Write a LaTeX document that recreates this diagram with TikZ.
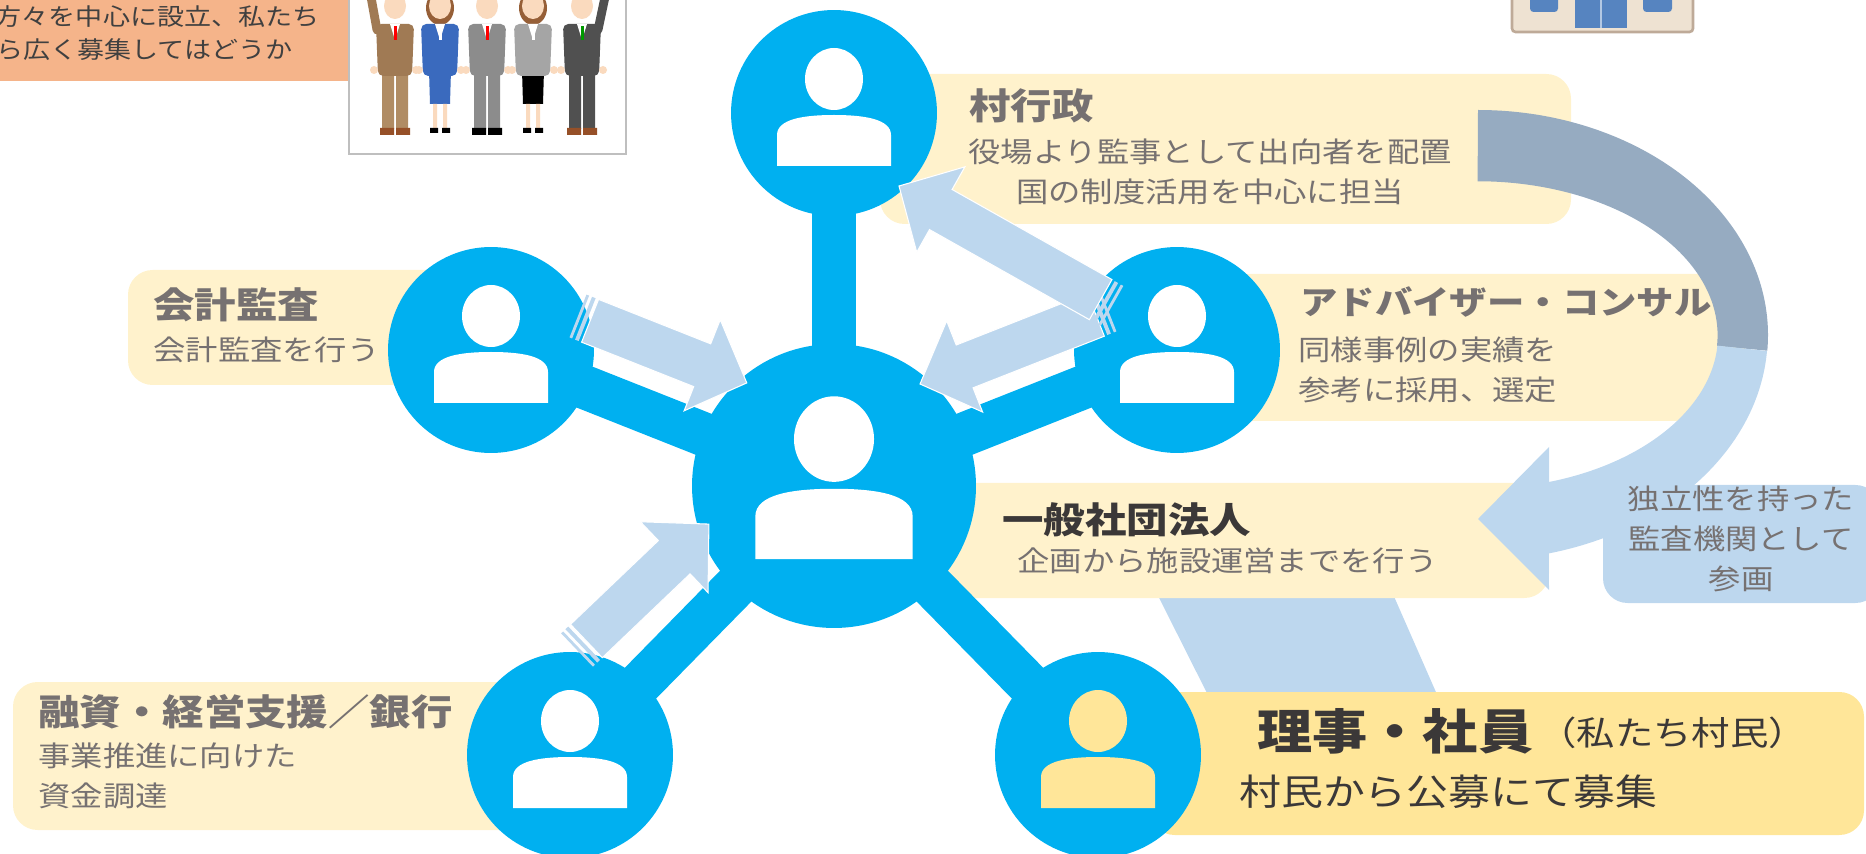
\documentclass[tikz,border=0pt]{standalone}
\usepackage{fontspec}
\setmainfont{Noto Sans CJK JP}[FakeStretch=1.15]
\usetikzlibrary{calc}

\definecolor{hubblue}{RGB}{0,176,240}
\definecolor{notecream}{RGB}{255,242,204}
\definecolor{membergold}{RGB}{255,230,153}
\definecolor{flowblue}{RGB}{189,215,238}
\definecolor{loopgray}{RGB}{150,171,193}
\definecolor{txtgray}{RGB}{118,113,113}
\definecolor{txtdark}{RGB}{59,56,56}
\definecolor{salmon}{RGB}{245,180,138}
\definecolor{skin}{RGB}{250,218,190}
\definecolor{suitbrown}{RGB}{160,122,84}
\definecolor{pantstan}{RGB}{176,140,100}
\definecolor{suitblue}{RGB}{58,106,190}
\definecolor{suitgray}{RGB}{140,140,140}
\definecolor{suitlight}{RGB}{165,165,165}
\definecolor{suitdark}{RGB}{80,80,80}
\definecolor{shoebrown}{RGB}{150,80,40}
\definecolor{hairbrown}{RGB}{150,95,55}
\definecolor{wallbeige}{RGB}{238,226,210}
\definecolor{wallframe}{RGB}{190,170,152}
\definecolor{windowblue}{RGB}{86,132,192}

\pgfdeclarelayer{notes}
\pgfdeclarelayer{stems}
\pgfsetlayers{notes,stems,main}

% block arrow with two stripes at its tail, from #1 to #2
\newcommand\stripedarrow[2]{%
  \path let \p1=($(#2)-(#1)$) in \pgfextra{%
    \pgfmathsetmacro\saangle{atan2(\y1,\x1)}\xdef\saangle{\saangle}%
    \pgfmathsetmacro\salen{veclen(\x1,\y1)}\xdef\salen{\salen}%
    \pgfmathsetmacro\saneck{\salen-27.3}\xdef\saneck{\saneck}};
  \begin{scope}[shift={(#1)}, rotate=\saangle, x=1pt, y=1pt]
    \fill[flowblue] (0,-13.1) rectangle (1.6,13.1) (3.4,-13.1) rectangle (5.6,13.1);
    \fill[flowblue, draw=white, line width=0.6pt] (7.4,-13.1) -- (\saneck,-13.1)
      -- (\saneck,-27.9) -- (\salen,0) -- (\saneck,27.9) -- (\saneck,13.1)
      -- (7.4,13.1) -- cycle;
  \end{scope}}

\begin{document}
\begin{tikzpicture}[x=0.02cm, y=-0.02cm,
    member/.style={circle, fill=hubblue, inner sep=0pt, minimum size=4.12cm},
    hubnode/.style={member, minimum size=5.68cm},
    stem/.style={hubblue, line width=25pt},
    note/.style={fill=notecream, rounded corners=14pt},
    title/.style={inner sep=0pt, anchor=west, text=txtgray,
      font=\fontsize{20.5}{24}\selectfont\bfseries},
    body/.style={inner sep=0pt, anchor=west, align=left, text=txtgray,
      font=\fontsize{16}{22.7}\selectfont},
    person/.pic={
      \path[pic actions] (0,-34) ellipse[x radius=29, y radius=31];
      \path[pic actions] (-57,53) -- (-57,22) .. controls (-57,6) and (-30,2) .. (0,2)
        .. controls (30,2) and (57,6) .. (57,22) -- (57,53) -- cycle;
    }
  ]
  \useasboundingbox (0,0) rectangle (1866,854);
  \clip (0,0) rectangle (1866,854);

  \begin{pgfonlayer}{notes}
    \fill[flowblue] (1140,560) -- (1378,560) -- (1446,715) -- (1218,715) -- cycle;
    \fill[note] (880,74) rectangle (1571,224);
    \fill[note] (128,270) rectangle (480,385);
    \fill[note] (1100,274) rectangle (1745,421);
    \fill[note] (900,483) rectangle (1549,598);
    \fill[note] (13,682) rectangle (600,830);
    \fill[note, fill=membergold] (1150,692) rectangle (1864,835);
  \end{pgfonlayer}

  % proposal note and staff picture
  \fill[salmon] (-5,-5) rectangle (348,81);
  \node[inner sep=0pt, anchor=east, text=black!75, font=\fontsize{13.4}{16}\selectfont]
    (proposalA) at (320,17) {方々を中心に設立、私たち};
  \node[inner sep=0pt, anchor=east, text=black!75, font=\fontsize{13.4}{16}\selectfont]
    (proposalB) at (293,50) {ら広く募集してはどうか};
  \filldraw[fill=white, draw=black!25, line width=1.2pt] (349,-5) rectangle (626,154);
  \draw[suitbrown, line width=5pt, line cap=round] (377,30) -- (371,-3);
  \draw[suitdark, line width=5pt, line cap=round] (598,30) -- (605,-3);
  \foreach \cx/\coat/\legs/\shoe/\tie/\lady in {395/suitbrown/pantstan/shoebrown/red/0,
      440/suitblue/suitblue/black/white/1, 487/suitgray/suitgray/black/red/0,
      533/suitlight/black/black/white/1, 582/suitdark/suitdark/shoebrown/green!60!black/0}{
    \ifnum\lady=1
      \fill[\legs] (\cx-11,70) -- (\cx+11,70) -- (\cx+10,104) -- (\cx-10,104) -- cycle;
      \fill[skin] (\cx-7,104) rectangle (\cx-3,130) (\cx+3,104) rectangle (\cx+7,130);
      \fill[\shoe] (\cx-10,128) rectangle (\cx-2,133) (\cx+2,128) rectangle (\cx+10,133);
      \fill[hairbrown] (\cx,8) ellipse[x radius=14, y radius=17];
    \else
      \fill[\legs] (\cx-13,74) rectangle (\cx-1,129) (\cx+1,74) rectangle (\cx+13,129);
      \fill[\shoe] (\cx-15,128) rectangle (\cx-1,135) (\cx+1,128) rectangle (\cx+15,135);
    \fi
    \fill[\coat, rounded corners=3pt] (\cx-19,24) -- (\cx+19,24) -- (\cx+17,76) -- (\cx-17,76) -- cycle;
    \fill[white] (\cx-5,24) -- (\cx+5,24) -- (\cx,40) -- cycle;
    \fill[\tie] (\cx-1.5,26) rectangle (\cx+1.5,40);
    \fill[skin] (\cx,6) ellipse[x radius=11, y radius=13];
    \fill[skin] (\cx-21,70) circle[radius=4] (\cx+21,70) circle[radius=4];
  }

  % office building
  \filldraw[fill=wallbeige, draw=wallframe, line width=1.5pt, rounded corners=2pt]
    (1512,-10) rectangle (1693,32);
  \fill[windowblue, rounded corners=2pt] (1530,-10) rectangle (1558,12) (1643,-10) rectangle (1672,12);
  \fill[windowblue] (1575,-10) rectangle (1627,28);
  \draw[windowblue!45!white, line width=1pt] (1601,-10) -- (1601,28);

  \node[hubnode] (hub) at (834,486) {};
  \node[member] (village) at (834,113) {};
  \node[member] (audit) at (491,350) {};
  \node[member] (advisor) at (1177,350) {};
  \node[member] (bank) at (570,755) {};
  \node[member] (board) at (1098,755) {};
  \begin{pgfonlayer}{stems}
    \foreach \n in {village,audit,advisor,bank,board}
      \draw[stem] (hub.center) -- (\n.center);
  \end{pgfonlayer}
  \foreach \n in {village,audit,advisor,bank}
    \pic[fill=white] at (\n) {person};
  \pic[fill=membergold] at (board) {person};
  \pic[fill=white, scale=1.38] at (hub) {person};

  % loop arrow from the village office down to the association
  \fill[loopgray] (1478,110) arc[start angle=-90, end angle=4, x radius=290, y radius=225]
    -- (1717,346) arc[start angle=4, end angle=-90, x radius=240, y radius=154] -- cycle;
  \fill[flowblue] (1767,351) arc[start angle=4, end angle=75.8, x radius=290, y radius=225]
    -- (1549,590) -- (1478,519) -- (1549,447) -- (1549,482)
    arc[start angle=72.8, end angle=4, x radius=240, y radius=154] -- cycle;
  \fill[flowblue, rounded corners=14pt] (1603,485) rectangle (1880,603);

  \coordinate (auditTail) at (578,316);
  \coordinate (auditTip) at (747,383);
  \coordinate (adviceTail) at (1108,310);
  \coordinate (adviceTip) at (920,384);
  \coordinate (villageTail) at (1112,306);
  \coordinate (villageTip) at (899,186);
  \coordinate (bankTail) at (577,650);
  \coordinate (bankTip) at (709,524);
  \stripedarrow{auditTail}{auditTip}
  \stripedarrow{adviceTail}{adviceTip}
  \stripedarrow{villageTail}{villageTip}
  \stripedarrow{bankTail}{bankTip}

  \node[title] (villageTitle) at (969,106) {村行政};
  \node[body, align=center, anchor=center] (villageText) at (1210,172)
    {役場より監事として出向者を配置\\国の制度活用を中心に担当};
  \node[title] (auditTitle) at (153,305) {会計監査};
  \node[body] (auditText) at (153,350) {会計監査を行う};
  \node[title, font=\fontsize{18.5}{22}\selectfont\bfseries] (advisorTitle) at (1300,302)
    {アドバイザー・コンサル};
  \node[body] (advisorText) at (1298,370) {同様事例の実績を\\参考に採用、選定};
  \node[title, text=txtdark] (corpTitle) at (1002,520) {一般社団法人};
  \node[body] (corpText) at (1017,561) {企画から施設運営までを行う};
  \node[body, align=center, anchor=center] (independText) at (1741,539)
    {独立性を持った\\監査機関として\\参画};
  \node[title] (bankTitle) at (38,712) {融資・経営支援／銀行};
  \node[body] (bankText) at (38,776) {事業推進に向けた\\資金調達};
  \node[title, text=txtdark, font=\fontsize{27.3}{30}\selectfont\bfseries] (boardTitle)
    at (1257,731) {理事・社員};
  \node[body, text=txtdark, font=\fontsize{19}{22}\selectfont] (boardNote) at (1538,733)
    {（私たち村民）};
  \node[body, text=txtdark, font=\fontsize{20.7}{24}\selectfont] (boardText) at (1239,792)
    {村民から公募にて募集};
\end{tikzpicture}
\end{document}
